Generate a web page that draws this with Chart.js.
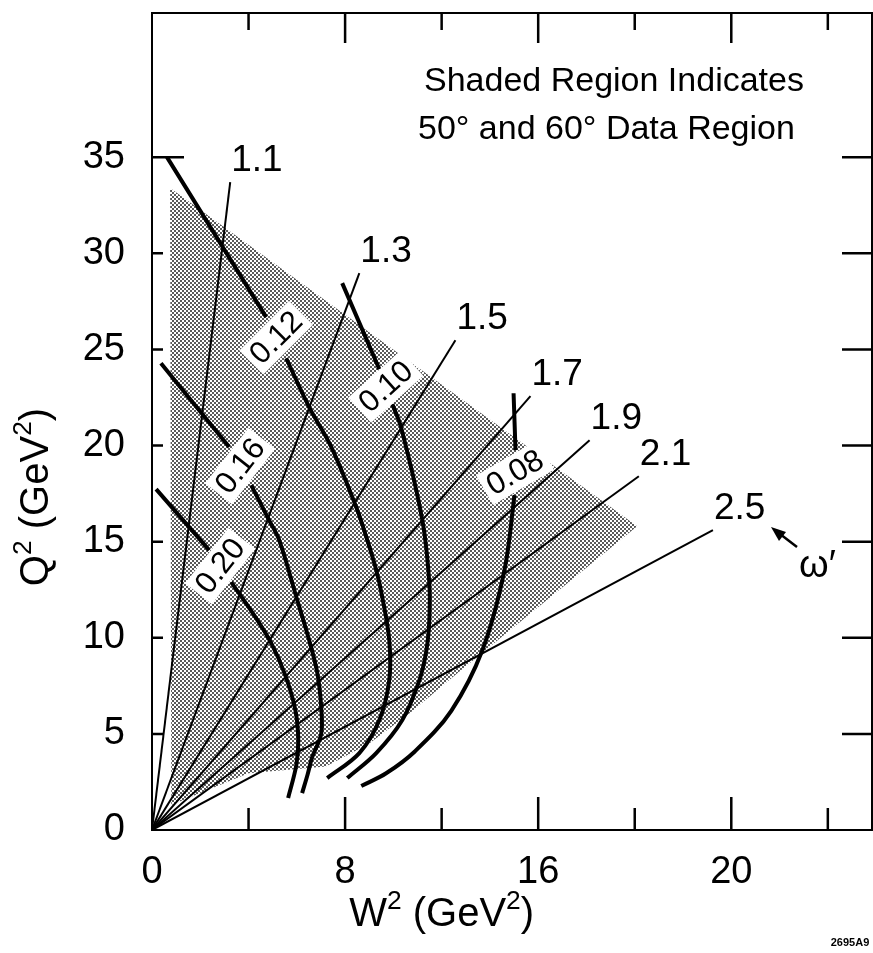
<!DOCTYPE html>
<html>
<head>
<meta charset="utf-8">
<script src="https://cdn.jsdelivr.net/npm/chart.js@4.4.1/dist/chart.umd.min.js"></script>
<style>
  html, body { margin: 0; padding: 0; background: #fff; }
  canvas { display: block; }
</style>
</head>
<body>
<canvas id="kin" width="873" height="953"></canvas>
<script>
// Axis ticks
const xTickValues = [0, 4, 8, 12, 16, 20, 24, 28];
const xTickLabels = ['0', '', '8', '', '16', '', '20', ''];
const yTickValues = [0, 5, 10, 15, 20, 25, 30, 35];
const yTickLabels = ['0', '5', '10', '15', '20', '25', '30', '35'];

// Lines of constant omega' : straight from the origin to these end points
const omegaLabels = ['1.1', '1.3', '1.5', '1.7', '1.9', '2.1', '2.5'];
const omegaEndW2 = [3.24, 8.59, 12.57, 15.68, 18.13, 20.17, 23.24];
const omegaEndQ2 = [33.7, 28.97, 25.48, 22.57, 20.28, 18.4, 15.6];

// Curves of constant x (null = break where the value is lettered)
const xCurveLabels = ['0.20', '0.16', '0.12', '0.10', '0.08'];
const x020W2 = [0.17, 2.37, null, 3.28, 4.23, 4.94, 5.52, 5.94, 6.06, 5.98, 5.64];
const x020Q2 = [17.73, 14.56, null, 12.90, 11.18, 9.72, 8.06, 6.24, 4.68, 3.38, 1.66];
const x016W2 = [0.37, 3.20, null, 4.11, 4.85, 5.27, 5.98, 6.51, 6.85, 7.01, 7.01, 6.64, 6.45, 6.22];
const x016Q2 = [24.28, 19.92, null, 17.94, 16.12, 15.08, 12.12, 9.88, 8.16, 6.40, 5.00, 3.80, 2.90, 1.92];
const x012W2 = [0.62, 4.73, null, 5.56, 6.51, 7.43, 8.46, 8.92, 9.29, 9.54, 9.83, 9.83, 9.42, 8.59, 7.26];
const x012Q2 = [35.0, 26.68, null, 24.54, 22.0, 19.92, 16.80, 15.08, 13.52, 12.12, 9.88, 7.80, 5.72, 4.00, 2.70];
const x010W2 = [7.88, 9.42, null, 9.96, 10.33, 11.20, 11.49, 11.49, 11.37, 11.08, 10.37, 9.29, 8.09];
const x010Q2 = [28.45, 23.97, null, 22.15, 20.90, 16.12, 12.84, 10.92, 9.36, 7.80, 5.72, 4.00, 2.70];
const x008W2 = [14.98, 15.06, null, 15.02, 14.60, 13.69, 12.40, 10.90, 9.70, 8.67];
const x008Q2 = [22.72, 19.76, null, 17.42, 13.50, 9.36, 6.20, 4.10, 2.95, 2.29];

// Outline of the 50 and 60 degree data region
const shadeW2 = [0.75, 20.1, 12.7, 10.7, 9.0, 7.2, 4.0, 1.95, 0.8];
const shadeQ2 = [33.4, 15.8, 8.2, 6.1, 4.5, 3.3, 2.95, 1.9, 1.3];

const FONT = "'Liberation Sans', Arial, sans-serif";
const font = (s, w) => (w || 'normal') + ' ' + s + 'px ' + FONT;

function pts(ws, qs) {
  return ws.map((w, i) => (w === null ? { x: null, y: null } : { x: w, y: qs[i] }));
}

// Halftone dot screen for the shaded region
function dotPattern() {
  const c = document.createElement('canvas');
  c.width = 4; c.height = 4;
  const g = c.getContext('2d');
  g.fillStyle = '#fff';
  g.fillRect(0, 0, 4, 4);
  g.fillStyle = '#5a5a5a';
  g.fillRect(0, 0, 2, 2);
  g.fillRect(2, 2, 2, 2);
  return g.createPattern(c, 'repeat');
}

const xCurves = [
  [x020W2, x020Q2], [x016W2, x016Q2], [x012W2, x012Q2], [x010W2, x010Q2], [x008W2, x008Q2]
];

const datasets = [];
omegaLabels.forEach((lab, i) => {
  datasets.push({
    label: "ω' = " + lab,
    data: [{ x: 0, y: 0 }, { x: omegaEndW2[i], y: omegaEndQ2[i] }],
    showLine: true, borderColor: '#000', borderWidth: 2, pointRadius: 0, tension: 0, order: 2
  });
});
xCurves.forEach(([w, q], i) => {
  datasets.push({
    label: 'x = ' + xCurveLabels[i],
    data: pts(w, q),
    showLine: true, borderColor: '#000', borderWidth: 4, pointRadius: 0,
    tension: 0.35, spanGaps: false, order: 1
  });
});
const shadePts = pts(shadeW2, shadeQ2);
shadePts.push(shadePts[0]);
datasets.push({
  label: 'data region',
  data: shadePts,
  showLine: true, borderWidth: 0, borderColor: 'rgba(0,0,0,0)',
  backgroundColor: dotPattern(), fill: 'shape', pointRadius: 0, tension: 0, order: 10
});

// Superscript-aware text drawing
function drawRich(ctx, parts, cx, baseY, size) {
  const sub = size * 0.66;
  let w = 0;
  parts.forEach(p => { ctx.font = font(p.sup ? sub : size); w += ctx.measureText(p.t).width; });
  let xx = cx - w / 2;
  ctx.textAlign = 'left';
  ctx.textBaseline = 'alphabetic';
  parts.forEach(p => {
    const s = p.sup ? sub : size;
    ctx.font = font(s);
    ctx.fillText(p.t, xx, baseY - (p.sup ? size * 0.42 : 0));
    xx += ctx.measureText(p.t).width;
  });
}

const decor = {
  id: 'decor',
  afterDatasetsDraw(chart) {
    const { ctx, chartArea: a, scales: { x, y } } = chart;
    ctx.save();
    ctx.fillStyle = '#000';
    ctx.strokeStyle = '#000';

    // lettering on the constant-x curves, on white patches
    const angles = [-52, -52, -45, -42, -30];
    xCurves.forEach(([w, q], i) => {
      const k = w.indexOf(null);
      const px = (x.getPixelForValue(w[k - 1]) + x.getPixelForValue(w[k + 1])) / 2;
      const py = (y.getPixelForValue(q[k - 1]) + y.getPixelForValue(q[k + 1])) / 2;
      ctx.save();
      ctx.translate(px, py);
      ctx.rotate(angles[i] * Math.PI / 180);
      ctx.font = font(31);
      const tw = ctx.measureText(xCurveLabels[i]).width;
      ctx.fillStyle = '#fff';
      ctx.fillRect(-tw / 2 - 5, -17, tw + 10, 34);
      ctx.fillStyle = '#000';
      ctx.textAlign = 'center';
      ctx.textBaseline = 'middle';
      ctx.fillText(xCurveLabels[i], 0, 1);
      ctx.restore();
    });

    // omega' values at the ends of their lines
    ctx.font = font(37);
    ctx.textAlign = 'left';
    ctx.textBaseline = 'alphabetic';
    omegaLabels.forEach((lab, i) => {
      const px = x.getPixelForValue(omegaEndW2[i]);
      const py = y.getPixelForValue(omegaEndQ2[i]);
      ctx.fillText(lab, px + 1, py - 11);
    });

    // omega' key with arrow
    ctx.font = font(38);
    ctx.fillText('ω′', 799, 577);
    ctx.lineWidth = 2.5;
    ctx.beginPath();
    ctx.moveTo(797, 547);
    ctx.lineTo(780, 534);
    ctx.stroke();
    ctx.beginPath();
    ctx.moveTo(771, 527);
    ctx.lineTo(786, 532);
    ctx.lineTo(779, 541);
    ctx.closePath();
    ctx.fill();

    // frame
    ctx.lineWidth = 2;
    ctx.strokeRect(a.left, a.top, a.right - a.left, a.bottom - a.top);

    // inward ticks
    ctx.lineWidth = 2.5;
    ctx.beginPath();
    xTickValues.forEach((v, i) => {
      if (v === 0) return;
      const px = x.getPixelForValue(v);
      const major = xTickLabels[i] !== '';
      ctx.moveTo(px, a.bottom); ctx.lineTo(px, a.bottom - (major ? 33 : 22));
      ctx.moveTo(px, a.top); ctx.lineTo(px, a.top + (major ? 30 : 17));
    });
    yTickValues.forEach((v, i) => {
      if (v === 0) return;
      const py = y.getPixelForValue(v);
      const top = i === yTickValues.length - 1;
      ctx.moveTo(a.left, py); ctx.lineTo(a.left + (top ? 32 : 11), py);
      ctx.moveTo(a.right, py); ctx.lineTo(a.right - 30, py);
    });
    ctx.stroke();

    // region note
    ctx.font = font(34);
    ctx.textAlign = 'left';
    ctx.fillText('Shaded Region Indicates', 424, 91);
    ctx.fillText('50° and 60° Data Region', 418, 139);

    // axis titles
    drawRich(ctx, [{ t: 'W' }, { t: '2', sup: true }, { t: ' (GeV' }, { t: '2', sup: true }, { t: ')' }],
      x.getPixelForValue(12), 926, 40);
    ctx.save();
    ctx.translate(48, 497);
    ctx.rotate(-Math.PI / 2);
    drawRich(ctx, [{ t: 'Q' }, { t: '2', sup: true }, { t: ' (GeV' }, { t: '2', sup: true }, { t: ')' }],
      0, 0, 40);
    ctx.restore();

    // figure number
    ctx.font = font(11, 'bold');
    ctx.textAlign = 'center';
    ctx.fillText('2695A9', 850, 946);
    ctx.restore();
  }
};

new Chart(document.getElementById('kin'), {
  type: 'scatter',
  data: { datasets },
  plugins: [decor],
  options: {
    responsive: false,
    animation: false,
    events: [],
    layout: { padding: { left: 0, top: 13, right: 1, bottom: 0 } },
    plugins: { legend: { display: false }, tooltip: { enabled: false }, title: { display: false } },
    scales: {
      x: {
        type: 'linear', min: 0, max: 29.83,
        afterFit: s => { s.height = 123; s.paddingLeft = 0; s.paddingRight = 0; },
        afterBuildTicks: s => { s.ticks = xTickValues.map(v => ({ value: v })); },
        grid: { display: false, drawTicks: false },
        border: { display: false },
        ticks: {
          autoSkip: false, maxRotation: 0, padding: 20, color: '#000',
          font: { family: FONT, size: 38 },
          callback: v => xTickLabels[xTickValues.indexOf(v)] ?? ''
        }
      },
      y: {
        type: 'linear', min: 0, max: 42.5,
        afterFit: s => { s.width = 152; s.paddingTop = 0; s.paddingBottom = 0; },
        afterBuildTicks: s => { s.ticks = yTickValues.map(v => ({ value: v })); },
        grid: { display: false, drawTicks: false },
        border: { display: false },
        ticks: {
          autoSkip: false, padding: 27, color: '#000',
          font: { family: FONT, size: 38 },
          callback: v => yTickLabels[yTickValues.indexOf(v)] ?? ''
        }
      }
    }
  }
});
</script>
</body>
</html>
